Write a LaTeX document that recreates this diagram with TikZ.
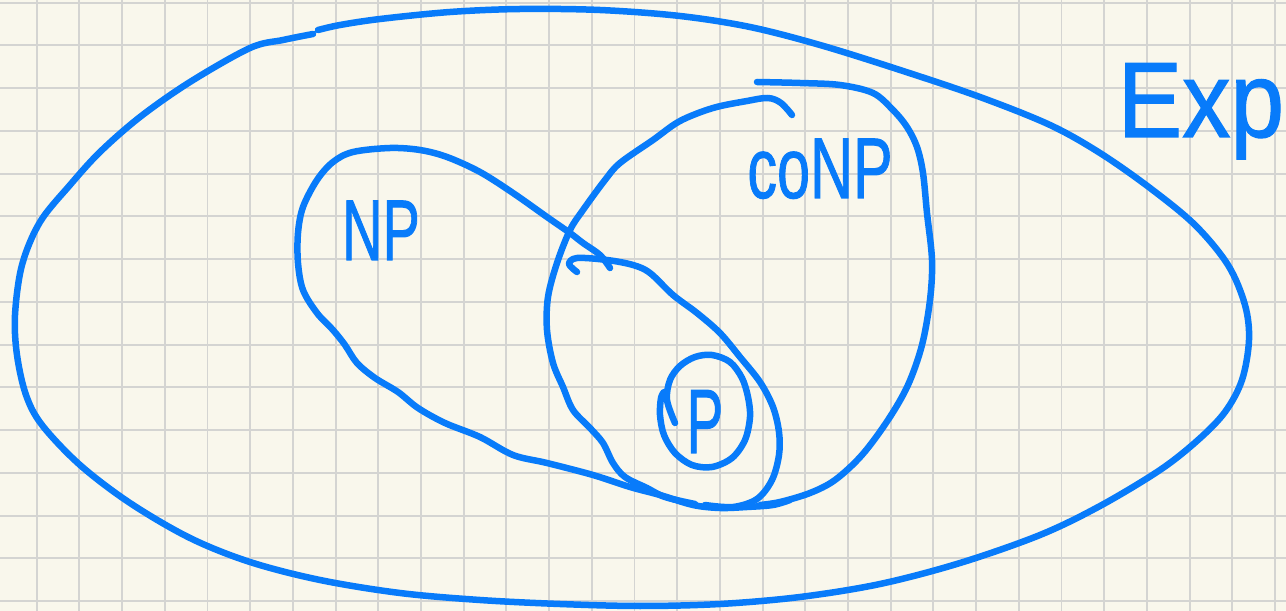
\documentclass[tikz,border=0pt]{standalone}
\usepackage{fontspec}
\setmainfont{Liberation Sans}
\newfontfamily\handfont[FakeBold=1.2]{Liberation Sans}
\definecolor{ink}{RGB}{8,123,250}
\definecolor{paper}{RGB}{249,247,236}
\definecolor{gridc}{RGB}{212,212,210}
\begin{document}
\begin{tikzpicture}[x=0.02cm,y=-0.02cm,
  pen/.style={draw=ink,line width=3.7pt,line cap=round,line join=round},
  gridline/.style={draw=gridc,line width=1.1pt},
  lbl/.style={text=ink,inner sep=0pt,anchor=base,font=\handfont}]
\fill[paper] (0,0) rectangle (1286,611);
\useasboundingbox (0,0) rectangle (1286,611);
\foreach \i in {0,...,29} \draw[gridline] ({36.7+42.7*\i},0) -- ({36.7+42.7*\i},611);
\foreach \j in {0,...,14} \draw[gridline] (0,{2.7+42.75*\j}) -- (1286,{2.7+42.75*\j});
% Exp (outer)
\draw[pen] plot[smooth,tension=0.55] coordinates {(318,30) (340,25) (380,19) (450,12) (520,9) (600,10) (680,16) (750,27) (820,45) (900,70) (980,97) (1050,125) (1100,153) (1150,188) (1195,225) (1228,265) (1245,305) (1249,340) (1242,380) (1225,412) (1198,440) (1160,470) (1100,506) (1040,535) (960,563) (880,584) (800,597) (720,604) (640,606) (560,604) (480,600) (400,593) (320,580) (250,562) (190,538) (130,503) (80,465) (42,425) (26,395) (17,355) (15,315) (22,265) (40,222) (70,185) (100,152) (140,117) (190,82) (250,48) (283,40) (313,34)};
% NP
\draw[pen] plot[smooth,tension=0.55] coordinates {(610,268) (600,255) (583,243) (570,233) (547,217) (513,193) (480,172) (447,157) (420,150) (390,148) (353,152) (333,162) (317,180) (303,207) (298,233) (298,263) (303,290) (317,313) (333,330) (345,345) (357,363) (375,378) (398,392) (418,408) (445,423) (480,437) (513,455) (547,463) (593,475) (630,487) (660,495) (693,505) (720,508) (747,507) (773,505) (790,500)};
% coNP left stroke
\draw[pen] plot[smooth,tension=0.55] coordinates {(792,115) (781,103) (768,98) (747,101) (713,108) (680,121) (653,140) (620,163) (605,180) (583,210) (570,230) (557,263) (548,297) (547,330) (553,363) (563,387) (573,410) (590,428) (603,443) (613,463) (625,477) (647,488) (665,497) (695,504)};
% coNP right stroke
\draw[pen] plot[smooth,tension=0.55] coordinates {(757,82) (800,83) (840,85) (873,93) (893,110) (907,127) (917,147) (923,173) (927,213) (932,260) (930,300) (922,345) (908,385) (888,420) (862,455) (835,480) (810,493) (780,502) (760,505)};
% inner region
\draw[pen] plot[smooth,tension=0.55] coordinates {(577,272) (569,264) (577,258) (607,260) (633,265) (650,273) (673,295) (697,313) (720,333) (740,357) (760,382) (773,407) (779,432) (779,455) (772,480) (757,499) (733,507) (705,505)};
% P loop
\draw[pen] plot[smooth,tension=0.55] coordinates {(675,423) (667,400) (670,380) (680,366) (695,357) (712,355) (730,362) (742,378) (748,397) (750,417) (745,440) (732,458) (712,467) (692,465) (675,453) (664,435) (660,415) (661,398) (664,392)};
% labels
\node[lbl] (lnp) at (381,260) {\scalebox{0.65}[1]{\fontsize{49}{49}\selectfont NP}};
\node[lbl] (lconp) at (820,198) {\scalebox{0.69}[1]{\fontsize{49}{49}\selectfont coNP}};
\node[lbl] (lexp) at (1201,137) {\scalebox{0.9}[1]{\fontsize{61}{61}\selectfont Exp}};
\node[lbl] (lp) at (705,453) {\scalebox{0.6}[1]{\fontsize{52}{52}\selectfont P}};
\end{tikzpicture}
\end{document}
